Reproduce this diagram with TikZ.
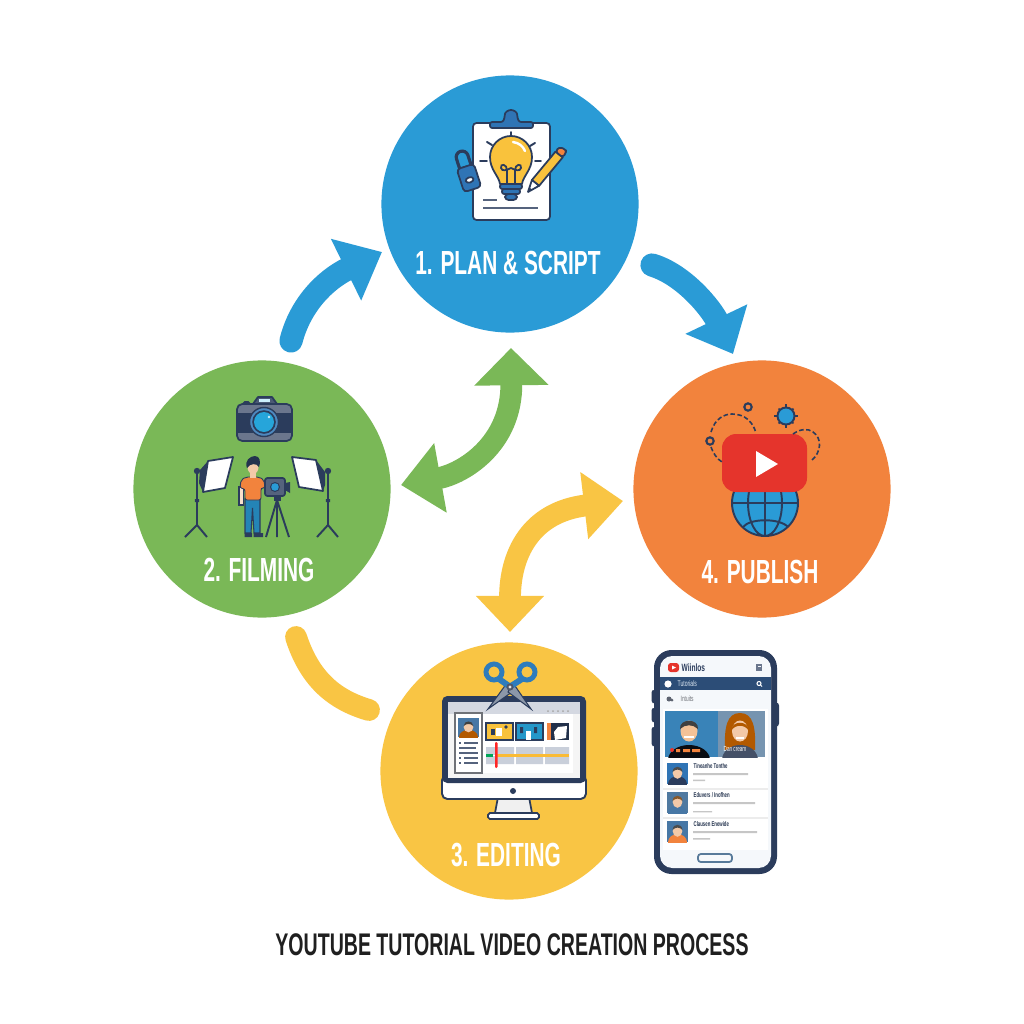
\documentclass[tikz,border=0pt]{standalone}
\usepackage{fontspec}
\usetikzlibrary{arrows.meta}
\setmainfont{Liberation Sans}
\newfontfamily\condfont[FakeStretch=0.625]{Liberation Sans}
\definecolor{cblue}{HTML}{2A9BD6}
\definecolor{cgreen}{HTML}{7AB857}
\definecolor{corange}{HTML}{F2833D}
\definecolor{cyellow}{HTML}{F9C544}
\definecolor{navy}{HTML}{2B3C5C}
\definecolor{steel}{HTML}{2F74B5}
\definecolor{bulb}{HTML}{F9C23C}
\definecolor{skin}{HTML}{F3C9A8}
\definecolor{ytred}{HTML}{E5342C}
\definecolor{graybar}{HTML}{C9CFDA}
\definecolor{bladegray}{HTML}{8C97A8}
\newcommand\thumbperson[7]{%
  \begin{scope}
    \clip (#1,#2) rectangle ++(#3,#4);
    \fill[#5] (#1,#2) rectangle ++(#3,#4);
    \fill[#6] (#1+#3/2,#2+#4) ellipse [x radius=#3*0.45, y radius=#4*0.38];
    \fill[skin] (#1+#3/2,#2+#4*0.48) ellipse [x radius=#3*0.23, y radius=#4*0.27];
    \fill[#7] (#1+#3*0.27,#2+#4*0.42) .. controls (#1+#3*0.27,#2+#4*0.1) and (#1+#3*0.73,#2+#4*0.1) .. (#1+#3*0.73,#2+#4*0.42) .. controls (#1+#3*0.6,#2+#4*0.28) and (#1+#3*0.4,#2+#4*0.28) .. cycle;
  \end{scope}}
\tikzset{
  stepcircle/.style={circle,minimum size=2.57cm,inner sep=0pt},
  steplabel/.style={text=white,font=\condfont\bfseries\fontsize{9.5}{11}\selectfont,inner sep=0pt},
  flowline/.style={line width=6.6pt,line cap=round},
  icon/.style={draw=navy,line width=0.5pt,line join=round},
  thin line/.style={draw=navy,line width=0.55pt,line cap=round},
  phonetxt/.style={inner sep=0pt,anchor=west,font=\condfont\bfseries\fontsize{1.95}{2.4}\selectfont,text=navy!85!black},
  subbar/.style={fill=gray!45},
}
\begin{document}
\begin{tikzpicture}[x=0.01cm,y=-0.01cm]
\useasboundingbox (0,0) rectangle (1024,1024);
\fill[white] (0,0) rectangle (1024,1024);

% step circles
\node[stepcircle,fill=cblue]   (plan)    at (510,204) {};
\node[stepcircle,fill=cgreen]  (film)    at (262,489) {};
\node[stepcircle,fill=corange] (publish) at (762,489) {};
\node[stepcircle,fill=cyellow] (edit)    at (509,771) {};

% connector ends
\coordinate (a1s) at (291,341); \coordinate (a1e) at (382,252);
\coordinate (a2s) at (652,265); \coordinate (a2e) at (733,354);
\coordinate (a3s) at (401,485); \coordinate (a3e) at (511,348);
\coordinate (a4s) at (510,632); \coordinate (a4e) at (623,501);
\coordinate (a5s) at (296,637); \coordinate (a5e) at (369,710);

\draw[flowline,cblue,-{Triangle[length=11.4pt,width=18.8pt]}] (a1s) .. controls (300,305) and (325,280) .. (a1e);
\draw[flowline,cblue,-{Triangle[length=11pt,width=18.8pt]}] (a2s) .. controls (685,275) and (712,310) .. (a2e);
\draw[flowline,cgreen,line width=6.2pt,{Triangle[length=11.4pt,width=19.4pt]}-{Triangle[length=10.6pt,width=20.5pt]}] (a3s) .. controls (462,474) and (512,445) .. (a3e);
\draw[flowline,cyellow,line width=6.2pt,{Triangle[length=10.3pt,width=18.8pt]}-{Triangle[length=11.1pt,width=18.5pt]}] (a4s) .. controls (510,555) and (530,512) .. (a4e);
\draw[flowline,cyellow,line width=6.2pt] (a5s) .. controls (310,680) and (335,700) .. (a5e);

% labels
\node[steplabel] (lab1) at (508,263) {1. PLAN \& SCRIPT};
\node[steplabel] (lab2) at (259,570) {2. FILMING};
\node[steplabel] (lab3) at (506,855) {3. EDITING};
\node[steplabel] (lab4) at (760,572) {4. PUBLISH};
\node[inner sep=0pt,text=black!88,font=\condfont\bfseries\fontsize{8.9}{10}\selectfont] (title) at (512,945) {YOUTUBE TUTORIAL VIDEO CREATION PROCESS};

% ---- plan icon
\draw[icon,fill=white,rounded corners=1pt] (473,123) rectangle (550,220);
\draw[icon,fill=steel,rounded corners=0.6pt] (490,128) -- (490,122) -- (503,122) -- (505,116) arc[start angle=180,end angle=360,radius=6] -- (519,122) -- (533,122) -- (533,128) -- cycle;
\draw[thin line] (511,132) -- (511,136) (487,142) -- (492,145) (535,143) -- (530,146) (480,161) -- (487,161) (535,161) -- (541,161);
\draw[icon,fill=bulb] (500,184) .. controls (499,176) and (490,170) .. (490,157) arc[start angle=180,end angle=360,radius=21] .. controls (532,170) and (523,176) .. (522,184) -- cycle;
\draw[white,line width=0.7pt,line cap=round] (513,142) .. controls (519,143) and (523,146) .. (525,151);
\draw[navy,line width=0.5pt] (507,184) -- (507,170) .. controls (507,164) and (500,163) .. (501,168) .. controls (502,172) and (507,170) .. (511,168) .. controls (515,170) and (520,172) .. (521,168) .. controls (522,163) and (515,164) .. (515,170) -- (515,184);
\draw[icon,fill=steel,rounded corners=0.6pt] (500,184) rectangle (522,189);
\draw[icon,fill=steel,rounded corners=0.6pt] (502,189) rectangle (520,194);
\draw[icon,fill=steel,rounded corners=1pt] (505,194) rectangle (517,200);
\draw[navy!80,line width=0.55pt] (483,200) -- (497,200) (483,208) -- (538,208);
% pencil
\draw[icon,fill=white] (528,192) -- (532,179.9) -- (539.2,185.7) -- cycle;
\fill[navy] (528,192) -- (529.5,187.5) -- (532.2,189.7) -- cycle;
\draw[icon,fill=bulb] (532,179.9) -- (555.5,151.6) -- (562.7,157.4) -- (539.2,185.7) -- cycle;
\draw[icon,fill=corange,rounded corners=0.8pt] (555.5,151.6) -- (559,147) -- (566,149.5) -- (566,153) -- (562.7,157.4) -- cycle;
% padlock
\begin{scope}[shift={(469,178)},rotate=18]
  \draw[navy,line width=0.9pt,fill=cblue] (-6,-11) -- (-6,-22) arc[start angle=180,end angle=360,radius=6] -- (6,-11) -- cycle;
  \draw[icon,fill=steel,rounded corners=1pt] (-9,-12) rectangle (9,12);
  \draw[icon,fill=white] (0,2) ellipse[x radius=4,y radius=2.6];
\end{scope}

% ---- film icon
\draw[icon,fill=navy!85,rounded corners=0.5pt] (243,402) rectangle (250,406);
\draw[icon,fill=navy!85] (253,404) -- (258,397) -- (272,397) -- (277,404) -- cycle;
\fill[cyan!20!white] (259,399) rectangle (270,402);
\draw[icon,fill=navy!70!white,rounded corners=1.5pt] (237,404) rectangle (292,441);
\fill[navy] (237.3,413) rectangle (291.7,433);
\draw[navy,fill=steel!85!white,line width=0.4pt] (264,422) circle (14.5);
\fill[navy] (264,422) circle (11.8);
\fill[cblue!90!cyan] (264,422) circle (10);
\fill[white!80!cyan] (269,417) circle (1.4);
% softboxes and stands
\draw[navy,line width=0.55pt] (197,471) -- (197,525) (185,537) -- (197,525) -- (207,537) (328,471) -- (328,525) (317,537) -- (328,525) -- (338,537);
\fill[navy] (197,471) circle (3.2) (328,471) circle (3.2) (194.8,499) rectangle (199.2,502) (325.8,499) rectangle (330.2,502);
\fill[navy] (200,470) -- (208,461) -- (203,492) -- (199,483) -- cycle;
\draw[icon,fill=white] (208,461) -- (233,457) -- (225,488) -- (203,492) -- cycle;
\fill[navy] (316,460) -- (325,472) -- (325,485) -- (323,491) -- cycle;
\draw[icon,fill=white] (292,457) -- (316,460) -- (323,491) -- (299,487) -- cycle;
% tripod
\draw[navy,line width=0.55pt] (277,500) -- (266,537) (277,500) -- (277,537) (277,500) -- (289,537);
\fill[navy] (274,496) rectangle (281,501);
% person
\draw[navy,line width=0.3pt,fill=skin!60!white] (239,487) rectangle (243.5,505);
\draw[navy,line width=0.3pt,fill=cblue!85!black] (245,499) -- (260,499) -- (260,533) -- (254,533) -- (252.5,508) -- (251,533) -- (245,533) -- cycle;
\fill[navy] (244.5,533) rectangle (252,537) (253.5,533) rectangle (263,537);
\fill[skin] (263,480) -- (267,484) -- (266,489) -- (262,486) -- cycle;
\draw[navy,line width=0.25pt,fill=corange,rounded corners=0.6pt] (246,477) -- (259,477) -- (264,480) -- (265,488) -- (261,488) -- (261,500) -- (245,500) -- (245,489) -- (240,488) -- (241,480) -- cycle;
\fill[skin] (250,472) rectangle (256,478);
\fill[skin] (253,467) ellipse[x radius=5.5,y radius=7];
\fill[navy!85!black] (247,468) .. controls (244,461) and (250,456) .. (255,456) .. controls (260,456) and (261,462) .. (259,467) .. controls (257,463) and (250,463) .. (247,468) -- cycle;
% video camera
\draw[icon,fill=navy!80,rounded corners=0.7pt] (265,478) rectangle (285,496);
\fill[navy] (285,483) -- (290,482) -- (290,493) -- (285,490) -- cycle;
\fill[navy] (275,487) circle (5);
\fill[cblue] (275,487) circle (3.8);

% ---- publish icon
\begin{scope}
  \clip (765,503) circle (33);
  \fill[cblue] (725,465) rectangle (805,540);
\end{scope}
\draw[navy,line width=0.55pt] (765,503) circle (33) (732,503) -- (798,503) (765,470) -- (765,536) (765,503) ellipse [x radius=17,y radius=33];
\draw[navy,line width=0.55pt] (743,527) .. controls (750,518) and (780,518) .. (788,527);
\fill[ytred,rounded corners=4pt] (722,434) rectangle (807,492);
\fill[white] (756,451) -- (778,464) -- (756,477) -- cycle;
\draw[navy,line width=0.45pt,dash pattern=on 1.3pt off 0.7pt] (711,432) .. controls (715,418) and (725,414) .. (732,414) .. controls (745,414) and (753,422) .. (756,433);
\draw[navy,line width=0.45pt,dash pattern=on 1.3pt off 0.7pt] (711,447) .. controls (713,453) and (717,459) .. (722,462);
\draw[navy,line width=0.45pt,dash pattern=on 1.3pt off 0.7pt] (793,434) .. controls (800,429) and (808,428) .. (813,432) .. controls (822,438) and (822,452) .. (811,461);
\draw[navy,line width=0.6pt] (710,441) circle (3.7) (748,407) circle (3.7);
\foreach \a in {0,90,180,270}{\draw[navy,line width=0.7pt] (786,416) ++(\a:7) -- ++(\a:5);}
\foreach \a in {45,135,225,315}{\draw[navy,line width=0.5pt] (786,416) ++(\a:7) -- ++(\a:3.5);}
\draw[navy,line width=0.55pt,fill=cblue] (786,416) circle (8.5);

% ---- edit icon
\draw[navy,line width=0.5pt,fill=gray!12] (498,797) -- (529,797) -- (532,813) -- (495,813) -- cycle;
\draw[navy,line width=0.5pt,fill=white,rounded corners=0.5pt] (488,813) rectangle (539,819);
\draw[navy,line width=0.55pt,fill=white,rounded corners=1.5pt] (442,775) rectangle (586,799);
\fill[navy,rounded corners=1.5pt] (442,696) -- (586,696) -- (586,783) -- (442,783) -- cycle;
\fill[navy] (513,791) circle (3);
\fill[white!92!gray] (448,702) rectangle (580,778);
\fill[graybar!80!white] (448,702) rectangle (580,714);
\fill[white] (454,714) rectangle (573,773);
\fill[gray!70] \foreach \d in {548,553,558,563,568}{(\d,711) circle (1)};
\draw[gray!80!navy,line width=0.4pt,fill=white] (455,713) rectangle (482,773);
\thumbperson{458}{718}{21}{19}{steel!70!gray}{orange!70!black}{black!75}
\draw[navy!80,line width=0.45pt] (459,743) -- (461,743) (464,743) -- (478,743) (459,748) -- (476,748) (459,753) -- (478,753) (459,758) -- (461,758) (464,758) -- (478,758) (459,763) -- (461,763) (464,763) -- (478,763);
% clips
\draw[navy,line width=0.4pt,fill=bulb] (486,723) rectangle (513,740);
\fill[navy] (491,729) rectangle (495,735); \fill[white] (496,728) rectangle (502,736); \fill[navy] (506,727) circle (1.8);
\draw[navy,line width=0.4pt,fill=cblue!85!teal] (516,723) rectangle (543,740);
\fill[navy] (520,727) rectangle (523,733) (534,727) rectangle (537,733); \fill[white] (526,731) rectangle (531,740);
\fill[navy!80!black] (547,723) rectangle (569,740);
\fill[corange] (547,723) rectangle (551,740);
\fill[white] (558,727) -- (567,726) -- (566,738) -- (555,740) -- (554,732) -- cycle;
% timeline
\fill[graybar] (486,747) rectangle (514,764) (516,747) rectangle (543,764) (545,747) rectangle (569,764);
\fill[white] (486,754.5) rectangle (569,756);
\fill[bulb!90!orange] (495,754) rectangle (569,756.5);
\fill[teal!70!green] (486,754) rectangle (493,756.5);
\fill[red!80!pink,rounded corners=0.3pt] (495,742) rectangle (497.5,768);
% scissors
\draw[navy,line width=0.3pt,fill=bladegray] (507,683) -- (488,709) -- (512,692) -- cycle;
\draw[navy,line width=0.3pt,fill=bladegray] (513,683) -- (531,709) -- (508,692) -- cycle;
\draw[steel!80!cblue,line width=1.4pt] (494,672) circle (8) (527,672) circle (8);
\draw[steel!80!cblue,line width=1.7pt] (499,679) -- (509,686) (522,679) -- (511,686);
\fill[navy!60!gray] (510,687) circle (3.6);
\fill[white!80!gray] (510,687) circle (1.6);

% ---- phone
\fill[navy,rounded corners=0.7pt] (651.5,690) rectangle (655,703) (651.5,708) rectangle (655,722) (651.5,727) rectangle (655,746) (776,703) rectangle (779,726);
\fill[navy,rounded corners=5pt] (654,650) rectangle (777,874);
\fill[white!95!steel,rounded corners=3.5pt] (660,656) rectangle (771,868);
\fill[ytred,rounded corners=0.8pt] (668,663) rectangle (679,672);
\fill[white] (672,665.5) -- (676,667.5) -- (672,669.5) -- cycle;
\node[phonetxt,text=navy,font=\condfont\bfseries\fontsize{3}{4}\selectfont] (wtitle) at (681,668) {Wiinlos};
\draw[navy!70,line width=0.3pt] (757,665) rectangle (761.5,670) (757,668) -- (761.5,668);
\fill[navy!70!steel] (660,677) rectangle (771,690);
\fill[white] (668,684) circle (3.6);
\node[phonetxt,text=white!85!steel,font=\condfont\fontsize{2.3}{3}\selectfont] (wsearch) at (677,684) {Tutorials};
\draw[white,line width=0.3pt] (759,683.5) circle (2) (760.5,685) -- (762,686.5);
\fill[gray!60!navy] (669,699) circle (2.5) (672,700) circle (1.5);
\node[phonetxt,text=gray!80!navy,font=\condfont\fontsize{2.2}{3}\selectfont] (wtab) at (680,699) {Intuits};
\fill[white] (663,709) rectangle (768,850);
% hero video
\fill[steel!60!cblue!85!gray] (665,711) rectangle (718,757);
\fill[gray!45!steel!80!white] (718,711) rectangle (765,757);
\begin{scope}
 \clip (665,711) rectangle (765,757);
 \fill[black!80!navy] (689,760) ellipse[x radius=21,y radius=15];
 \fill[skin!90!orange] (689,731) ellipse[x radius=8.5,y radius=10.5];
 \fill[black!75] (680,729) .. controls (679,718) and (699,718) .. (698,729) .. controls (693,724) and (685,724) .. cycle;
 \fill[white] (684,736) rectangle (694,738);
 \fill[orange!70!black] (725,750) .. controls (724,727) and (727,713) .. (740,713) .. controls (753,713) and (756,727) .. (755,750) -- cycle;
 \fill[navy!70!gray] (740,760) ellipse[x radius=18,y radius=15];
 \fill[skin] (740,731) ellipse[x radius=8,y radius=10.5];
 \fill[orange!70!black] (731,731) .. controls (731,720) and (749,720) .. (749,731) .. controls (745,724) and (735,724) .. cycle;
 \fill[white] (736,737) rectangle (744,739);
\end{scope}
\fill[ytred] (672,750) circle (2);
\fill[corange] (676,749) rectangle (680,752) (683,749) rectangle (690,752) (692,749) rectangle (700,752);
\node[phonetxt,text=white,font=\condfont\fontsize{2.1}{3}\selectfont] (wcap) at (723,749) {Dan cream};
% list
\thumbperson{667}{763}{21}{21}{steel}{navy}{black!70}
\thumbperson{667}{792}{21}{21}{gray!40!steel}{steel!70!gray}{brown!70!black}
\thumbperson{667}{821}{21}{21}{steel!70!gray}{corange}{black!70}
\node[phonetxt] (w1) at (693,766) {Tineanhe Tonthe};
\node[phonetxt] (w2) at (693,795) {Eduvers / Inofhen};
\node[phonetxt] (w3) at (693,824) {Clausen Enewide};
\fill[subbar] (693,773.2) rectangle (748,775) (693,779.5) rectangle (705,781) (693,802.2) rectangle (755,804) (693,811) rectangle (712,812.4) (693,831.2) rectangle (757,833) (693,838) rectangle (710,839.5);
\draw[gray!15,line width=0.3pt] (663,789) -- (768,789) (663,818) -- (768,818);
\draw[gray!50!steel,line width=0.5pt,rounded corners=0.8pt] (698,854) rectangle (732,862);
\end{tikzpicture}
\end{document}
